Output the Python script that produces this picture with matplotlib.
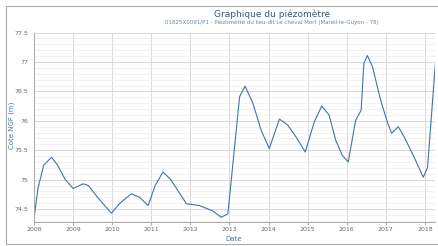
import matplotlib.pyplot as plt
from matplotlib.patches import Rectangle

# piezometer level (decimal year, m NGF)
dates = [2008.0, 2008.1, 2008.25, 2008.45, 2008.6, 2008.8, 2009.0, 2009.26, 2009.39,
         2009.6, 2009.98, 2010.2, 2010.49, 2010.7, 2010.92, 2011.1, 2011.3, 2011.5,
         2011.9, 2012.23, 2012.57, 2012.79, 2012.96, 2013.08, 2013.26, 2013.40, 2013.6,
         2013.81, 2014.02, 2014.28, 2014.49, 2014.70, 2014.94, 2015.17, 2015.36, 2015.55,
         2015.72, 2015.89, 2016.04, 2016.23, 2016.37, 2016.44, 2016.53, 2016.66, 2016.87,
         2017.04, 2017.15, 2017.32, 2017.47, 2017.72, 2017.96, 2018.07, 2018.27]
levels = [74.33, 74.85, 75.25, 75.38, 75.25, 75.0, 74.85, 74.93, 74.90,
          74.72, 74.43, 74.6, 74.76, 74.70, 74.56, 74.9, 75.13, 75.0,
          74.59, 74.56, 74.47, 74.36, 74.42, 75.21, 76.41, 76.59, 76.30,
          75.84, 75.53, 76.03, 75.93, 75.73, 75.47, 75.98, 76.25, 76.10,
          75.67, 75.41, 75.30, 76.01, 76.18, 76.98, 77.11, 76.92, 76.35,
          75.98, 75.79, 75.90, 75.73, 75.39, 75.04, 75.21, 76.98]
years = list(range(2008, 2019))
yticks = [74.5, 75, 75.5, 76, 76.5, 77, 77.5]

W, H = 438, 246
fig = plt.figure(figsize=(W / 100, H / 100), dpi=100)
# outer frame (right side runs off the picture)
fig.patches.append(Rectangle((6 / W, 2 / H), 440 / W, 238 / H, transform=fig.transFigure,
                             fill=False, edgecolor='#aaaaaa', linewidth=0.8))
ax = fig.add_axes([34 / W, 24 / H, 401 / W, 189.4 / H])

ax.plot(dates, levels, color='#4572A7', linewidth=0.8)

ax.set_xlim(2008, 2018.26)
ax.set_ylim(74.28, 77.5)
ax.set_xticks(years)
ax.set_xticklabels([str(y) for y in years])
ax.set_yticks(yticks)
ax.set_yticklabels(['74.5', '75', '75.5', '76', '76.5', '77', '77.5'])
ax.set_yticks([v / 10 for v in range(743, 776)], minor=True)
ax.grid(True, which='major', color='#d8d8d8', linewidth=0.7)
ax.grid(True, which='minor', axis='y', color='#ececec', linewidth=0.5)
ax.tick_params(axis='both', labelsize=4.5, labelcolor='#666666', length=2, color='#aaaaaa', pad=1.5)
ax.tick_params(axis='y', which='both', length=0, pad=4)
ax.tick_params(axis='x', which='minor', length=0)
for side in ['top', 'right']:
    ax.spines[side].set_visible(False)
for side in ['left', 'bottom']:
    ax.spines[side].set_color('#aaaaaa')
    ax.spines[side].set_linewidth(0.7)

ax.set_xlabel('Date', fontsize=5, color='#4d759e')
ax.xaxis.set_label_coords((234 - 34) / 401, -(236 - 222) / 189.4)
ax.set_ylabel('Cote NGF (m)', fontsize=5, color='#4d759e')
ax.yaxis.set_label_coords(-(34 - 15) / 401, (222 - 125) / 189.4)

fig.text(272 / W, 1 - 14 / H, 'Graphique du piézomètre', ha='center', va='center',
         fontsize=6.5, color='#3e576f')
fig.text(272 / W, 1 - 22 / H,
         '01825X0091/P1 - Piézomètre du lieu-dit Le cheval Mort (Mareil-le-Guyon - 78)',
         ha='center', va='center', fontsize=4, color='#6d869f')

fig.savefig('out.png', dpi=100)
